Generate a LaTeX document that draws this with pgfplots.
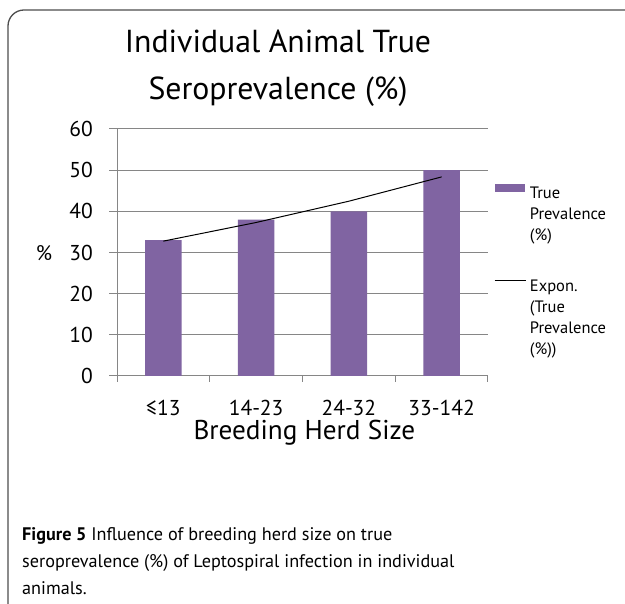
\documentclass[border=0pt]{standalone}
\usepackage{fontspec}
\setmainfont{PT Sans}
\usepackage{pgfplots}
\pgfplotsset{compat=1.18}
\definecolor{barpurple}{HTML}{8064A2}
\definecolor{gridgray}{HTML}{868686}
\definecolor{framegray}{HTML}{4D4D4D}
\begin{document}
\begin{tikzpicture}
\path[use as bounding box] (0pt,0pt) rectangle (625pt,604pt);
\draw[framegray, line width=1.3pt, rounded corners=16pt] (625pt,594pt) -- (8pt,594pt) -- (8pt,0pt);
\begin{axis}[
  at={(117pt,228pt)}, anchor=south west,
  scale only axis, width=371pt, height=247pt,
  xmin=-0.5, xmax=3.5, ymin=0, ymax=60,
  axis x line*=bottom, axis y line*=left,
  axis line style={-, draw=gridgray, line width=1pt},
  ybar, bar width=36.7pt,
  xtick={0,1,2,3},
  xticklabels={≤13,14-23,24-32,33-142},
  major x tick style={draw=none},
  minor xtick={-0.5,0.5,1.5,2.5,3.5},
  minor tick length=6pt,
  ytick={0,10,...,60},
  major tick length=8pt,
  tick align=outside,
  tick style={draw=gridgray, line width=1pt},
  ymajorgrids,
  grid style={draw=gridgray, line width=1pt},
  /pgf/number format/assume math mode=true,
  ticklabel style={font=\fontsize{21.5}{24}\selectfont},
  yticklabel style={anchor=east, inner sep=0pt, xshift=-16pt},
  xticklabel style={anchor=base, inner sep=0pt, yshift=-32pt, font=\fontsize{21.5}{24}\selectfont},
  title={Individual Animal True\\Seroprevalence (\%)},
  title style={at={(axis description cs:0.434,1.376)}, anchor=north, align=center, inner sep=0pt, font=\fontsize{31.8}{47}\selectfont},
  xlabel={Breeding Herd Size},
  xlabel style={at={(axis description cs:0.505,-0.259)}, anchor=base, inner sep=0pt, font=\fontsize{27.2}{30}\selectfont},
  ylabel={\%},
  ylabel style={at={(axis description cs:-0.197,0.4656)}, anchor=base, rotate=-90, inner sep=0pt, font=\fontsize{21}{24}\selectfont},
  legend style={draw=none, fill=none, at={(axis description cs:1.016,0.786)}, anchor=north west,
    font=\fontsize{16.5}{21}\selectfont, inner sep=0pt, row sep=73pt, column sep=2pt,
    cells={anchor=base west}},
  legend cell align=left,
]
\addplot[fill=barpurple, draw=none, bar shift=0pt,
  legend image code/.code={\fill[barpurple] (0pt,0pt) rectangle (30pt,8pt);}]
  coordinates {(0,33) (1,38) (2,40) (3,50)};
\addlegendentry{\begin{tabular}[t]{@{}l@{}}True\\Prevalence\\(\%)\end{tabular}}
\addplot[sharp plot, black, line width=1pt, mark=none,
  legend image code/.code={\draw[black, line width=0.8pt] (0pt,4.5pt) -- (31pt,4.5pt);}]
  coordinates {(0,32.76) (1,37.29) (2,42.46) (3,48.36)};
\addlegendentry{\begin{tabular}[t]{@{}l@{}}Expon.\\(True\\Prevalence\\(\%))\end{tabular}}
\end{axis}
\node[anchor=base west, align=left, inner sep=0pt, font=\fontsize{18.2}{27}\selectfont] at (22pt,9pt)
  {\textbf{Figure 5} Influence of breeding herd size on true\\seroprevalence (\%) of Leptospiral infection in individual\\animals.};
\end{tikzpicture}
\end{document}
